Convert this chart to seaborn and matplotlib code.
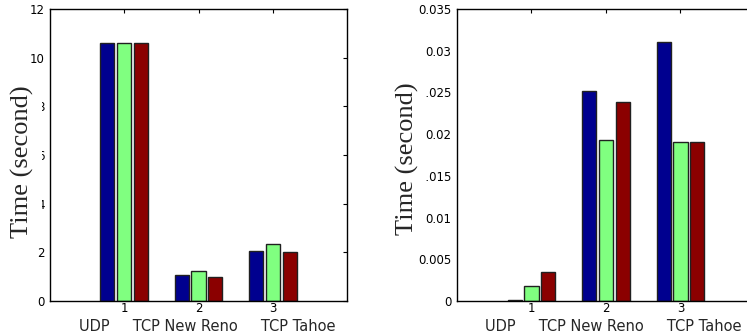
import numpy as np
import pandas as pd
import matplotlib as mpl
mpl.use("Agg")
import matplotlib.pyplot as plt
import seaborn as sns

# Data
# --------------
groups = [1, 2, 3]
protocols = ["UDP", "TCP New Reno", "TCP Tahoe"]

# left panel: time (second), one list per protocol, one value per group
left_udp = [10.59, 1.06, 2.07]
left_newreno = [10.59, 1.22, 2.34]
left_tahoe = [10.59, 0.99, 2.03]

# right panel
right_udp = [0.00008, 0.0252, 0.0310]
right_newreno = [0.0018, 0.0193, 0.0191]
right_tahoe = [0.0035, 0.0239, 0.0191]

left_ticks = [0, 2, 4, 6, 8, 10, 12]
right_ticks = [0, 0.005, 0.01, 0.015, 0.02, 0.025, 0.03, 0.035]
right_ticklabels = ["0", "0.005", "0.01", "0.015", "0.02", "0.025", "0.03", "0.035"]

colors = ["#00008f", "#80ff80", "#8b0000"]


def long_form(udp, newreno, tahoe):
    frames = []
    for name, vals in zip(protocols, [udp, newreno, tahoe]):
        frames.append(pd.DataFrame({"group": groups, "protocol": name, "time": vals}))
    return pd.concat(frames, ignore_index=True)


left_data = long_form(left_udp, left_newreno, left_tahoe)
right_data = long_form(right_udp, right_newreno, right_tahoe)

# Set-up
# --------------
sns.set_theme(style="white")
plt.rcParams["font.family"] = ["DejaVu Sans"]

figure = plt.figure(figsize=(7.47, 3.36), dpi=100)
ax_left = figure.add_axes([50 / 747, 35 / 336, 297 / 747, 292 / 336])
ax_right = figure.add_axes([457 / 747, 35 / 336, 298 / 747, 292 / 336])

xlabel_text = "UDP     TCP New Reno     TCP Tahoe"

# (axes, data, yticks, yticklabels, ymax, ylabel coords, xlabel x, bbox pad)
panels = [
    (ax_left, left_data, left_ticks, None, 12, (-0.055, 0.478), 0.529, 6),
    (ax_right, right_data, right_ticks, right_ticklabels, 0.035, (-0.126, 0.486), 0.523, 5),
]

for ax, data, ticks, ticklabels, ymax, ylab_xy, xlab_x, ypad in panels:
    sns.barplot(
        data=data, x="group", y="time", hue="protocol",
        hue_order=protocols, palette=colors, saturation=1,
        native_scale=True, width=0.68, gap=0.16,
        edgecolor="#202020", linewidth=1.0,
        legend=False, ax=ax,
    )
    ax.set_xlim(0, 4)
    ax.set_ylim(0, ymax)
    ax.set_xticks(groups)
    ax.set_xticklabels([str(g) for g in groups])
    ax.set_yticks(ticks)
    if ticklabels is not None:
        ax.set_yticklabels(ticklabels)
    ax.tick_params(
        direction="in", length=3, width=0.8, top=True, right=True,
        labelsize=8.5, colors="black",
    )
    ax.tick_params(axis="x", pad=1)
    ax.tick_params(axis="y", pad=4)
    for spine in ax.spines.values():
        spine.set_visible(True)
        spine.set_color("black")
        spine.set_linewidth(1.0)

    ax.set_xlabel(xlabel_text, fontsize=10.5, labelpad=0)
    ax.xaxis.set_label_coords(xlab_x, -0.06)
    ax.set_ylabel(
        "Time (second)", family=["Liberation Serif", "DejaVu Serif"],
        fontsize=19,
        bbox=dict(facecolor="white", edgecolor="none", pad=ypad),
    )
    ax.yaxis.set_label_coords(*ylab_xy)

figure.savefig("out.png", dpi=100)
